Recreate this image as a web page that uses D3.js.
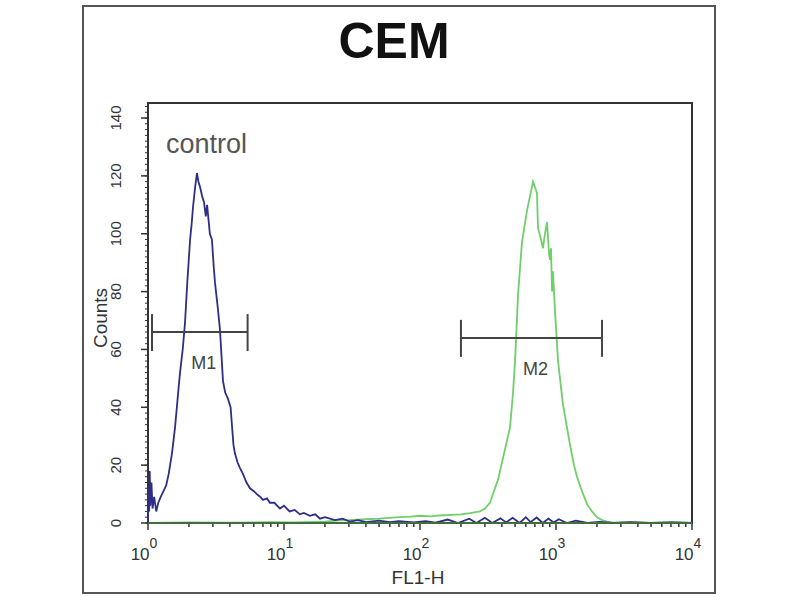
<!DOCTYPE html>
<html><head><meta charset="utf-8">
<script src="https://cdn.jsdelivr.net/npm/d3@7"></script>
<style>body{margin:0;background:#fff}svg{display:block}text{font-family:"Liberation Sans",Arial,sans-serif}</style>
</head><body><svg id="c" width="800" height="600"></svg>
<script>
const title = "CEM";
const xLabel = "FL1-H";
const yLabel = "Counts";
const sampleLabel = "control";
const yTicks = [0, 20, 40, 60, 80, 100, 120, 140];
const xExponents = [0, 1, 2, 3, 4];

// control histogram (blue): [FL1-H, counts]
const controlSeries = [
 [1.00,0],[1.01,12],[1.02,4],[1.03,18],[1.04,6],[1.06,14],[1.08,5],[1.11,9],[1.15,4],[1.19,7],[1.24,9],[1.30,11],[1.36,13],[1.42,17],[1.50,24],[1.58,33],[1.63,40],[1.68,47],[1.72,52],[1.80,60],[1.87,69],[1.95,84],[2.04,98],[2.10,104],[2.14,109],[2.22,116],[2.29,121],[2.35,118],[2.42,116],[2.50,113],[2.58,111],[2.66,106],[2.72,110],[2.85,100],[2.95,98],[3.05,88],[3.11,83],[3.25,75],[3.38,67],[3.48,57],[3.56,49],[3.70,45],[3.87,43],[4.05,40],[4.14,34],[4.25,27],[4.36,24],[4.55,21],[4.75,19],[4.99,17],[5.3,14],[5.62,12],[6.0,11],[6.31,10],[6.7,9],[7.0,8],[7.5,8.5],[7.87,7],[8.5,7],[9.34,5],[10,6],[11,4],[12,4.5],[13.1,3],[14,3.5],[15.5,2.5],[17,3],[18.4,1.5],[20,2],[23.7,1],[27,1.5],[30.5,0.5],[35,1],[40,0.3],[50,0.8],[60,0.3],[70,0.6],[90,0.2],[110,0.6],[130,0.1],[160,1.2],[190,0],[230,1.5],[260,0],[300,1.8],[340,0],[390,1.6],[430,0.2],[480,1.8],[540,0],[600,2],[650,0.3],[720,1.9],[800,0],[880,1.5],[960,0.2],[1050,1.3],[1200,0],[1400,0.8],[1700,0],[2100,0.4],[2600,0],[3500,0.3],[5000,0],[7000,0.2],[10000,0]
];

// sample histogram (green): [FL1-H, counts]
const sampleSeries = [
 [1.0,0],[2,0.2],[4,0.1],[8,0.3],[12,0.2],[20,0.5],[25,0.9],[30,1],[40,1.3],[50,1.5],[60,1.8],[70,2],[85,2.2],[100,2.5],[120,2.3],[140,2.6],[170,2.8],[200,3],[233,3.4],[276,4],[300,5],[327,7],[344,10],[375,15],[401,21],[429,27],[459,33],[483,45],[500,56],[526,79],[562,97],[612,108],[644,113],[678,118],[701,116],[725,114],[737,102],[776,98],[802,95],[830,100],[859,104],[889,93],[903,91],[919,95],[935,80],[950,87],[984,73],[1035,56],[1088,47],[1125,41],[1205,33],[1268,27],[1356,20],[1426,16],[1552,11],[1690,6.5],[1840,4],[2001,2],[2180,1],[2372,0.5],[2716,0],[3500,0.2],[5000,0],[7000,0.3],[10000,0]
];

// markers: [start, end, level, label]
const markerM1 = [1.07, 5.4, 66, "M1"];
const markerM2 = [200, 2180, 64, "M2"];

const svg = d3.select("#c");
svg.append("rect").attr("x",0).attr("y",0).attr("width",800).attr("height",600).attr("fill","#fff");
svg.append("rect").attr("x",83).attr("y",6).attr("width",632).attr("height",587)
  .attr("fill","none").attr("stroke","#555").attr("stroke-width",2);

svg.append("text").attr("x",394).attr("y",58).attr("text-anchor","middle")
  .attr("font-size",50).attr("font-weight","bold").attr("fill","#111").text(title);

const L=148, R=692, T=103, B=523;
const x = d3.scaleLog().domain([1,10000]).range([L,R]);
const y = d3.scaleLinear().domain([0,145.2]).range([B,T]);

// y minor ticks
const yMinor = d3.range(0,145,2);
svg.append("g").selectAll("line").data(yMinor).join("line")
  .attr("x1",L).attr("x2",L-3).attr("y1",d=>y(d)).attr("y2",d=>y(d))
  .attr("stroke","#333").attr("stroke-width",1);
svg.append("g").selectAll("line").data(yTicks).join("line")
  .attr("x1",L).attr("x2",L-7).attr("y1",d=>y(d)).attr("y2",d=>y(d))
  .attr("stroke","#333").attr("stroke-width",1.5);
svg.append("g").selectAll("text").data(yTicks).join("text")
  .attr("transform",d=>`translate(121,${y(d)}) rotate(-90)`)
  .attr("text-anchor","middle").attr("font-size",15).attr("fill","#333").text(d=>d);

// x ticks
const xMinor = [];
for (let e=0;e<4;e++) for (let k=2;k<=9;k++) xMinor.push(k*Math.pow(10,e));
svg.append("g").selectAll("line").data(xMinor).join("line")
  .attr("x1",d=>x(d)).attr("x2",d=>x(d)).attr("y1",B).attr("y2",B+4)
  .attr("stroke","#333").attr("stroke-width",1.5);
svg.append("g").selectAll("line").data(xExponents).join("line")
  .attr("x1",d=>x(Math.pow(10,d))).attr("x2",d=>x(Math.pow(10,d))).attr("y1",B).attr("y2",B+7)
  .attr("stroke","#333").attr("stroke-width",1.5);
const xl = svg.append("g").selectAll("text").data(xExponents).join("text")
  .attr("x",d=>x(Math.pow(10,d))-4).attr("y",560).attr("text-anchor","middle")
  .attr("font-size",17).attr("fill","#333");
xl.append("tspan").text("10");
xl.append("tspan").attr("dy",-12).attr("font-size",14).text(d=>d);

svg.append("text").attr("x",418).attr("y",584).attr("text-anchor","middle")
  .attr("font-size",19).attr("fill","#333").text(xLabel);
svg.append("text").attr("transform","translate(107,318) rotate(-90)")
  .attr("text-anchor","middle").attr("font-size",19).attr("fill","#333").text(yLabel);

// plot frame
svg.append("rect").attr("x",L).attr("y",T).attr("width",R-L).attr("height",B-T)
  .attr("fill","none").attr("stroke","#333").attr("stroke-width",2);

svg.append("text").attr("x",166).attr("y",153).attr("font-size",27).attr("fill","#555").text(sampleLabel);

const line = d3.line().x(d=>x(d[0])).y(d=>y(d[1]));
svg.append("path").datum(sampleSeries).attr("d",line).attr("fill","none")
  .attr("stroke","#6fcf6a").attr("stroke-width",1.8);
svg.append("path").datum(controlSeries).attr("d",line).attr("fill","none")
  .attr("stroke","#2e2e86").attr("stroke-width",1.8);
// baseline green overlay
svg.append("line").attr("x1",L).attr("x2",R).attr("y1",B).attr("y2",B)
  .attr("stroke","#3f6f3f").attr("stroke-width",2);

function marker(m){
  const g = svg.append("g").attr("stroke","#444").attr("stroke-width",2);
  const yy = y(m[2]);
  g.append("line").attr("x1",x(m[0])).attr("x2",x(m[1])).attr("y1",yy).attr("y2",yy);
  g.append("line").attr("x1",x(m[0])).attr("x2",x(m[0])).attr("y1",yy-18).attr("y2",yy+19);
  g.append("line").attr("x1",x(m[1])).attr("x2",x(m[1])).attr("y1",yy-18).attr("y2",yy+19);
  svg.append("text").attr("x",(x(m[0])+x(m[1]))/2+4).attr("y",yy+37).attr("text-anchor","middle")
    .attr("font-size",18).attr("fill","#444").text(m[3]);
}
marker(markerM1);
marker(markerM2);
</script></body></html>
